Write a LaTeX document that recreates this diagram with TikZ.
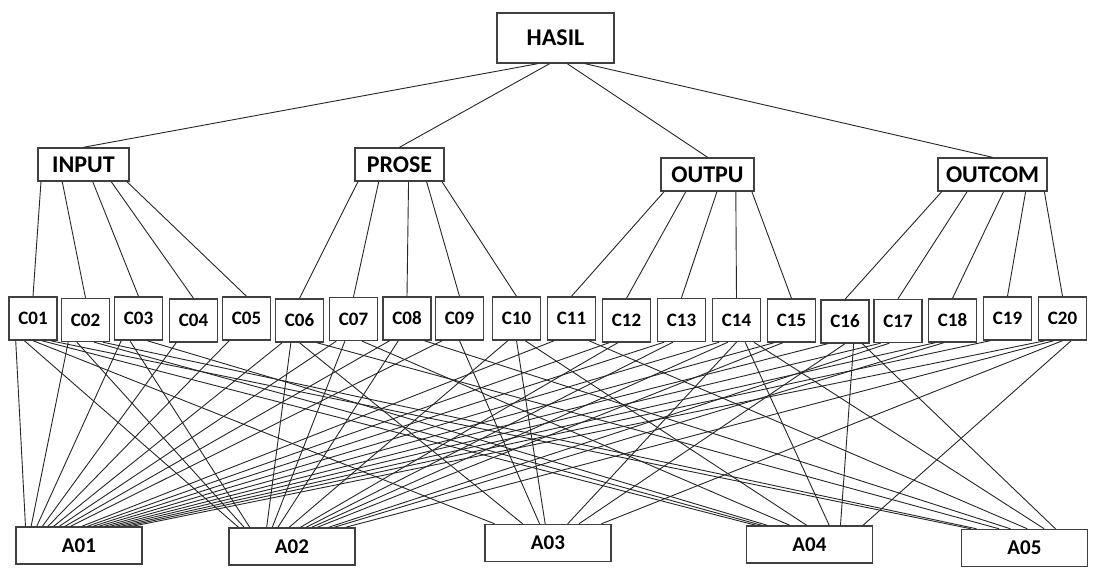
\documentclass[tikz,border=0pt]{standalone}
\usepackage{fontspec}
\setmainfont{Carlito}
\usetikzlibrary{calc}
\begin{document}
\begin{tikzpicture}[x=0.5pt,y=-0.5pt,
  box/.style={draw=black!75,line width=0.7pt,fill=white,inner sep=0pt,font=\bfseries\fontsize{12}{14}\selectfont},
  topbox/.style={box,minimum width=58.5pt,minimum height=25pt},
  grpbox/.style={box,minimum height=16.5pt},
  cbox/.style={box,minimum width=24pt,minimum height=21.5pt,font=\bfseries\fontsize{9.5}{11}\selectfont},
  abox/.style={box,minimum width=63pt,minimum height=18.5pt,font=\bfseries\fontsize{10.5}{12}\selectfont},
  link/.style={draw=black!85,line width=0.45pt}]
\useasboundingbox (0,0) rectangle (1094,581);

% root and groups
\node[topbox] (H) at (555.5,38) {HASIL};
\node[grpbox,minimum width=45.5pt] (G1) at (83.5,164.5) {INPUT};
\node[grpbox,minimum width=44.5pt] (G2) at (399.5,164.5) {PROSE};
\node[grpbox,minimum width=46.5pt] (G3) at (707.5,174.5) {OUTPU};
\node[grpbox,minimum width=54.5pt] (G4) at (992.5,174.5) {OUTCOM};

% criteria row
\foreach \n/\x/\y in {1/33/318.5, 2/85.5/320, 3/138.5/318.5, 4/193.5/320.5, 5/246.5/318.5,
  6/299.5/320.5, 7/353.5/319, 8/407/318.5, 9/459.5/318.5, 10/516.5/318.5,
  11/571.5/318.5, 12/626.5/320.5, 13/681.5/320, 14/736.5/320, 15/791.5/320.5,
  16/845/321.5, 17/898/321, 18/952.5/320.5, 19/1007.5/318.5, 20/1062.5/318.5}{
  \node[cbox] (C\n) at (\x,\y) {C\ifnum\n<10 0\fi\n};
}

% alternatives row
\node[abox] (A1) at (79,545.5) {A01};
\node[abox] (A2) at (292,546.5) {A02};
\node[abox] (A3) at (548,543) {A03};
\node[abox] (A4) at (809.5,544.5) {A04};
\node[abox] (A5) at (1024.5,548) {A05};

% root to groups
\foreach \g/\f in {1/0.35,2/0.45,3/0.6,4/0.75}{
  \draw[link] ($(H.south west)!\f!(H.south east)$) -- (G\g.north);
}

% groups to criteria
\foreach \g/\k in {1/1,2/6,3/11,4/16}{
  \foreach \m/\f in {0/0.04,1/0.27,2/0.6,3/0.8,4/0.97}{
    \pgfmathtruncatemacro\cc{\k+\m}
    \draw[link] ($(G\g.south west)!\f!(G\g.south east)$) -- (C\cc.north);
  }
}

% criteria to alternatives
\foreach \i/\j in {1/1,1/2,1/3,1/4,1/5, 2/1,2/2,2/4,2/5, 3/1,3/2,3/4, 4/1, 5/1,
  6/1,6/2,6/3,6/5, 7/1,7/2,7/4, 8/1,8/2,8/5, 9/1,9/3, 10/2,10/3,10/4,
  11/1,11/5, 12/1,12/2, 13/1,13/2, 14/1,14/2,14/3,14/4,14/5, 15/1,15/2,
  16/1,16/3,16/4,16/5, 17/1,17/2, 18/1,18/2, 19/1, 20/1,20/2,20/3,20/4}{
  \pgfmathsetmacro\gs{0.15+0.175*(\j-1)}
  \pgfmathsetmacro\fe{0.08+0.84*(\i-1)/19}
  \draw[link] ($(C\i.south west)!\gs!(C\i.south east)$) -- ($(A\j.north west)!\fe!(A\j.north east)$);
}
\end{tikzpicture}
\end{document}
